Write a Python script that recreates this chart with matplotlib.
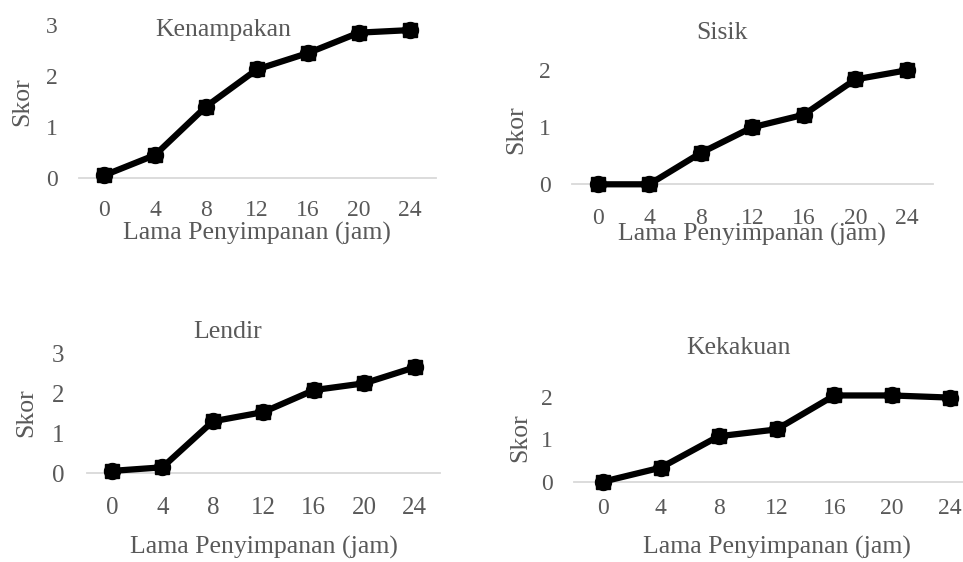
import matplotlib.pyplot as plt

# data
jam = [0, 4, 8, 12, 16, 20, 24]
kenampakan = [0.05, 0.45, 1.4, 2.13, 2.45, 2.85, 2.9]
sisik = [0.0, 0.0, 0.55, 1.0, 1.22, 1.84, 2.0]
lendir = [0.06, 0.15, 1.3, 1.53, 2.08, 2.25, 2.65]
kekakuan = [0.0, 0.33, 1.07, 1.23, 2.03, 2.03, 1.98]

W, H = 963, 562
gray = "#595959"
font = "Liberation Serif"

fig = plt.figure(figsize=(W / 100, H / 100), dpi=100)


def panel(left, right, y0, top, ymax, yticks, values, title, title_xy,
          ylab_xy, xlab_xy, tick_size, xpad, ypad):
    ax = fig.add_axes([left / W, 1 - y0 / H, (right - left) / W, (y0 - top) / H])
    ax.plot(jam, values, color="black", lw=4.5, marker="s", ms=10.5, zorder=3)
    ax.plot(jam, values, color="black", lw=0, marker="o", ms=11.5, zorder=4)
    ax.set_xlim(-2, 26)
    ax.set_ylim(0, ymax)
    ax.set_xticks(jam)
    ax.set_yticks(yticks)
    for s in ["top", "right", "left"]:
        ax.spines[s].set_visible(False)
    ax.spines["bottom"].set_color("#d9d9d9")
    ax.spines["bottom"].set_linewidth(1.3)
    ax.spines["bottom"].set_zorder(1)
    ax.tick_params(axis="x", length=0, pad=xpad, labelsize=tick_size, labelcolor=gray)
    ax.tick_params(axis="y", length=0, pad=ypad, labelsize=tick_size, labelcolor=gray)
    for lab in ax.get_xticklabels() + ax.get_yticklabels():
        lab.set_fontfamily(font)
    ax.patch.set_alpha(0)
    for a in ax.lines:
        a.set_clip_on(False)

    fig.text(title_xy[0] / W, 1 - title_xy[1] / H, title, ha="center", va="center",
             fontsize=18.5, color=gray, family=font)
    fig.text(ylab_xy[0] / W, 1 - ylab_xy[1] / H, "Skor", ha="center", va="center",
             rotation=90, fontsize=18.5, color=gray, family=font)
    fig.text(xlab_xy[0] / W, 1 - xlab_xy[1] / H, "Lama Penyimpanan (jam)", ha="center",
             va="center", fontsize=18.5, color=gray, family=font)
    return ax


panel(78.5, 435.5, 178, 25, 3, [0, 1, 2, 3], kenampakan, "Kenampakan", (223, 30),
      (22, 102), (257, 233), 17, 15.5, 15)
panel(572, 932.5, 184.3, 41.8, 2.5, [0, 1, 2], sisik, "Sisik", (722, 33),
      (516, 130), (752, 234), 17, 17, 15)
panel(86.75, 440, 473.3, 353.3, 3, [0, 1, 2, 3], lendir, "Lendir", (228, 332),
      (26, 413), (264, 547), 18, 17, 16)
panel(574, 979, 481.7, 375.5, 2.5, [0, 1, 2], kekakuan, "Kekakuan", (739, 348),
      (520, 438), (777, 547), 17, 12, 15)

plt.savefig("out.png", dpi=100)
